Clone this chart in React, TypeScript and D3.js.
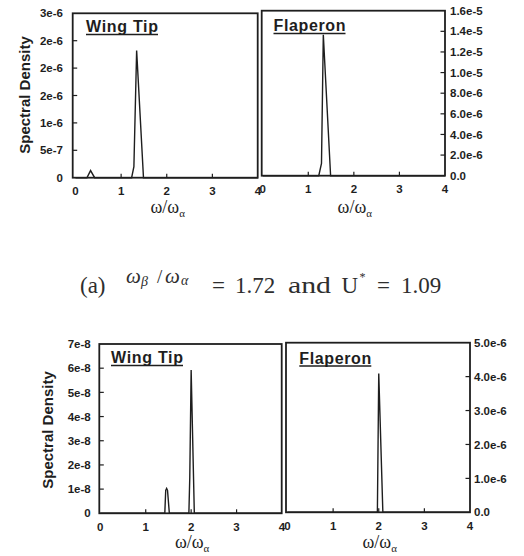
import React from "react"
import { scaleLinear, line } from "d3"

const width = 524
const height = 556

const ink = "#1e1e1e"
const sans = "'Liberation Sans', Arial, sans-serif"
const serif = "'Liberation Serif', 'Times New Roman', serif"

const xTicks = [0, 1, 2, 3, 4]
const xTickLabels = ["0", "1", "2", "3", "4"]

// (a) omega_beta/omega_alpha = 1.72, U* = 1.09
const tipFreqA = [0, 0.25, 0.33, 0.42, 1.23, 1.28, 1.34, 1.49, 4]
const tipPsdA = [0, 0, 1.3e-7, 0, 0, 2e-7, 2.32e-6, 0, 0]
const flapFreqA = [0, 1.23, 1.29, 1.33, 1.49, 4]
const flapPsdA = [0, 0, 1.2e-6, 1.366e-5, 0, 0]

// lower pair
const tipFreqB = [0, 1.42, 1.44, 1.46, 1.48, 1.52, 1.95, 1.97, 2.0, 2.07, 4]
const tipPsdB = [0, 0, 9.5e-9, 1.03e-8, 9.5e-9, 0, 0, 1.5e-8, 5.92e-8, 0, 0]
const flapFreqB = [0, 1.97, 2.0, 2.09, 4]
const flapPsdB = [0, 0, 4.09e-6, 0, 0]

const tipTicksA = [0, 5e-7, 1e-6, 1.5e-6, 2e-6, 2.5e-6, 3e-6]
const tipLabelsA = ["0", "5e-7", "1e-6", "2e-6", "2e-6", "2e-6", "3e-6"]
const flapTicksA = [0, 2e-6, 4e-6, 6e-6, 8e-6, 1e-5, 1.2e-5, 1.4e-5, 1.6e-5]
const flapLabelsA = ["0.0", "2.0e-6", "4.0e-6", "6.0e-6", "8.0e-6", "1.0e-5", "1.2e-5", "1.4e-5", "1.6e-5"]
const tipTicksB = [0, 1e-8, 2e-8, 3e-8, 4e-8, 5e-8, 6e-8, 7e-8]
const tipLabelsB = ["0", "1e-8", "2e-8", "3e-8", "4e-8", "5e-8", "6e-8", "7e-8"]
const flapTicksB = [0, 1e-6, 2e-6, 3e-6, 4e-6, 5e-6]
const flapLabelsB = ["0.0", "1.0e-6", "2.0e-6", "3.0e-6", "4.0e-6", "5.0e-6"]

type PanelProps = {
  left: number
  right: number
  top: number
  bottom: number
  x0: number
  x4: number
  yMax: number
  ticks: number[]
  labels: string[]
  side: "left" | "right"
  labelX: number
  title: string
  titleX: number
  titleY: number
  freq: number[]
  psd: number[]
  axisTitleY: number
}

function Panel(p: PanelProps) {
  const x = scaleLinear().domain([0, 4]).range([p.x0, p.x4])
  const y = scaleLinear().domain([0, p.yMax]).range([p.bottom, p.top])
  const pts = p.freq.map((f, i) => [f, p.psd[i]] as [number, number])
  const path = line<[number, number]>()
    .x(d => x(d[0]))
    .y(d => y(d[1]))(pts)
  const axisX = p.side === "left" ? p.left : p.right
  const dir = p.side === "left" ? 1 : -1
  const titleW = 72

  return (
    <g>
      <path d={path || ""} fill="none" stroke={ink} strokeWidth={1.4} />
      <rect
        x={p.left}
        y={p.top}
        width={p.right - p.left}
        height={p.bottom - p.top}
        fill="none"
        stroke={ink}
        strokeWidth={1.8}
      />
      {xTicks.map((t, i) => (
        <g key={"x" + i}>
          {t > 0 && t < 4 && (
            <line x1={x(t)} x2={x(t)} y1={p.bottom} y2={p.bottom - 4} stroke={ink} strokeWidth={1.2} />
          )}
          <text
            x={x(t)}
            y={p.bottom + 17.5}
            textAnchor="middle"
            fontFamily={sans}
            fontWeight="bold"
            fontSize={11.5}
            fill={ink}
          >
            {xTickLabels[i]}
          </text>
        </g>
      ))}
      {p.ticks.map((t, i) => (
        <g key={"y" + i}>
          {t > 0 && t < p.yMax && (
            <line x1={axisX} x2={axisX + dir * 4.5} y1={y(t)} y2={y(t)} stroke={ink} strokeWidth={1.2} />
          )}
          <text
            x={p.labelX}
            y={y(t)}
            dy="0.36em"
            textAnchor={p.side === "left" ? "end" : "start"}
            fontFamily={sans}
            fontWeight="bold"
            fontSize={11.5}
            fill={ink}
          >
            {p.labels[i]}
          </text>
        </g>
      ))}
      <text
        x={p.titleX}
        y={p.titleY}
        fontFamily={sans}
        fontWeight="bold"
        fontSize={16}
        textLength={titleW}
        lengthAdjust="spacing"
        fill={ink}
      >
        {p.title}
      </text>
      <line
        x1={p.titleX}
        x2={p.titleX + titleW}
        y1={p.titleY + 2.5}
        y2={p.titleY + 2.5}
        stroke={ink}
        strokeWidth={1.6}
      />
      <text
        x={(p.x0 + p.x4) / 2 + 1}
        y={p.axisTitleY}
        textAnchor="middle"
        fontFamily={serif}
        fontSize={18}
        fill={ink}
      >
        ω/ω
        <tspan fontSize={11} dy={4}>α</tspan>
      </text>
    </g>
  )
}

function YTitle({ cx, cy }: { cx: number; cy: number }) {
  return (
    <text
      transform={`translate(${cx}, ${cy}) rotate(-90)`}
      textAnchor="middle"
      dy="0.35em"
      fontFamily={sans}
      fontWeight="bold"
      fontSize={15}
      fill={ink}
    >
      Spectral Density
    </text>
  )
}

function App() {
  const capY = 292.5
  const capColor = "#2e2e2e"
  return (
    <svg
      width={width}
      height={height}
      style={{ position: "absolute", left: 0, top: 0, background: "#fff" }}
    >
      <YTitle cx={25} cy={95} />
      <Panel
        left={72.7} right={257.7} top={13.3} bottom={177.7}
        x0={75.5} x4={258}
        yMax={3e-6} ticks={tipTicksA} labels={tipLabelsA}
        side="left" labelX={63}
        title="Wing Tip" titleX={86} titleY={32}
        freq={tipFreqA} psd={tipPsdA}
        axisTitleY={213}
      />
      <Panel
        left={261.7} right={445} top={10.7} bottom={175.7}
        x0={262.7} x4={445}
        yMax={1.6e-5} ticks={flapTicksA} labels={flapLabelsA}
        side="right" labelX={450}
        title="Flaperon" titleX={273.5} titleY={31}
        freq={flapFreqA} psd={flapPsdA}
        axisTitleY={213}
      />

      <text fontFamily={serif} fontSize={23} fill={capColor}>
        <tspan x={80} y={capY}>(a)</tspan>
      </text>
      <text fontFamily={serif} fontStyle="italic" fill={capColor}>
        <tspan x={126} y={capY - 9.5} fontSize={21}>ω</tspan>
        <tspan x={141} y={capY - 7} fontSize={14}>β</tspan>
        <tspan x={157} y={capY - 9.5} fontSize={19} fontStyle="normal">/</tspan>
        <tspan x={165} y={capY - 9.5} fontSize={21}>ω</tspan>
        <tspan x={181} y={capY - 7.5} fontSize={14}>α</tspan>
      </text>
      <text fontFamily={serif} fontSize={23} fill={capColor}>
        <tspan x={212} y={capY}>=</tspan>
        <tspan x={235} y={capY}>1.72</tspan>
        <tspan x={288} y={capY} textLength={43} lengthAdjust="spacingAndGlyphs">and</tspan>
        <tspan x={341.5} y={capY}>U</tspan>
        <tspan x={359.5} y={capY - 12} fontSize={12}>*</tspan>
        <tspan x={377} y={capY}>=</tspan>
        <tspan x={401} y={capY}>1.09</tspan>
      </text>

      <YTitle cx={47.5} cy={430} />
      <Panel
        left={99.3} right={281.7} top={344} bottom={513.3}
        x0={100.3} x4={282}
        yMax={7e-8} ticks={tipTicksB} labels={tipLabelsB}
        side="left" labelX={90.7}
        title="Wing Tip" titleX={111} titleY={363}
        freq={tipFreqB} psd={tipPsdB}
        axisTitleY={548}
      />
      <Panel
        left={286} right={470} top={342.7} bottom={512.3}
        x0={287.5} x4={470}
        yMax={5e-6} ticks={flapTicksB} labels={flapLabelsB}
        side="right" labelX={474}
        title="Flaperon" titleX={299.3} titleY={363.5}
        freq={flapFreqB} psd={flapPsdB}
        axisTitleY={548}
      />
    </svg>
  )
}

export default App
